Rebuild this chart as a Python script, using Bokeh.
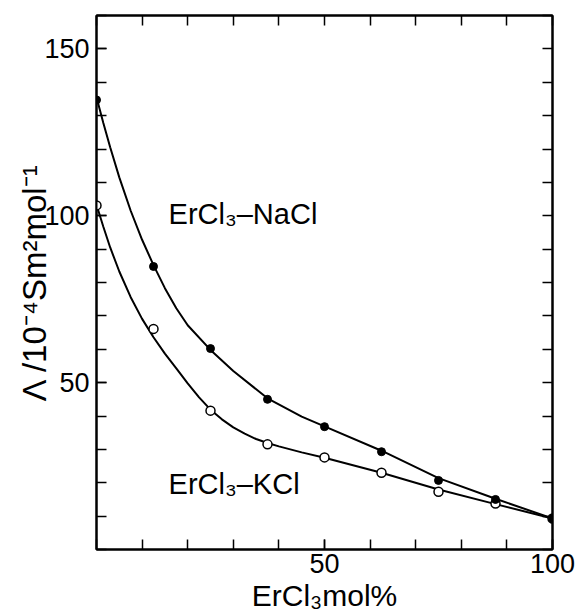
from bokeh.plotting import figure
from bokeh.models import LinearAxis, FixedTicker, Range1d, Label
from bokeh.core.properties import value
from bokeh.embed import file_html
from bokeh.resources import INLINE

# ---- data ----
comp = [0, 12.5, 25, 37.5, 50, 62.5, 75, 87.5, 100]          # ErCl3 mol%
nacl = [134.7, 84.8, 60.2, 45.0, 36.8, 29.3, 20.7, 15.0, 9.3]  # ErCl3-NaCl (filled)
kcl = [103.1, 66.1, 41.6, 31.5, 27.6, 23.0, 17.3, 13.8, 9.3]   # ErCl3-KCl (open)

# fitted curves
nacl_curve_x = [0, 1.5, 3, 5, 7.5, 10, 12.5, 15, 17.5, 20, 25, 30, 37.5, 45, 50, 62.5, 75, 87.5, 100]
nacl_curve = [135.5, 127.8, 120.5, 111.5, 101.5, 92.8, 85.2, 78.3, 72.3, 67.2, 59.8, 53.5, 45.3,
              39.8, 36.9, 29.6, 21.4, 15.2, 9.3]
kcl_curve_x = [0, 1.5, 3, 5, 7.5, 10, 12.5, 15, 17.5, 20, 22.5, 25, 27.5, 30, 32.5, 35, 37.5, 40,
               45, 50, 62.5, 75, 87.5, 100]
kcl_curve = [103.3, 96.7, 90.5, 83.3, 75.6, 69.1, 63.6, 58.7, 54.3, 49.8, 45.6, 41.9, 39.0, 36.6,
             34.7, 33.1, 31.9, 30.9, 29.1, 27.5, 23.0, 18.0, 13.6, 9.3]

x_ticks = [50, 100]
y_ticks = [50, 100, 150]
x_minor = list(range(0, 101, 10))
y_minor = list(range(0, 161, 10))
origin_label = "0"

label_na = "ErCl\u2083\u2013NaCl"
label_k = "ErCl\u2083\u2013KCl"
x_title = "ErCl\u2083mol%"
y_title = "\u039b /10\u207b\u2074Sm\u00b2mol\u207b\u00b9"

FONT = "Liberation Sans"

p = figure(width=578, height=614, x_range=Range1d(0, 100), y_range=Range1d(0, 160),
           output_backend="svg", toolbar_location=None,
           min_border_left=96, min_border_right=26, min_border_top=15, min_border_bottom=64,
           x_axis_location=None, y_axis_location=None)
p.xgrid.visible = False
p.ygrid.visible = False
p.outline_line_color = "black"
p.outline_line_width = 2
p.background_fill_color = "white"
p.border_fill_color = "white"


def style(ax):
    ax.axis_line_width = 2
    ax.axis_line_color = "black"
    ax.major_tick_in = 10
    ax.major_tick_out = 0
    ax.minor_tick_in = 10
    ax.minor_tick_out = 0
    ax.major_tick_line_width = 1.5
    ax.minor_tick_line_width = 1.5
    ax.major_tick_line_color = "black"
    ax.minor_tick_line_color = "black"
    ax.major_label_text_font = FONT
    ax.major_label_text_font_size = "27px"
    ax.major_label_text_color = "black"
    ax.axis_label_text_font = FONT
    ax.axis_label_text_font_size = "30px"
    ax.axis_label_text_font_style = "normal"
    ax.axis_label_text_color = "black"


xb = LinearAxis(ticker=FixedTicker(ticks=x_ticks, minor_ticks=x_minor), axis_label=x_title)
style(xb)
xb.major_label_standoff = 4
xb.axis_label_standoff = 3
p.add_layout(xb, "below")

yl = LinearAxis(ticker=FixedTicker(ticks=y_ticks, minor_ticks=y_minor), axis_label=y_title)
style(yl)
yl.major_label_standoff = 7
yl.axis_label_standoff = -12
yl.axis_label_text_font_size = "33px"
p.add_layout(yl, "left")

# top and right frame ticks (no labels)
xt = LinearAxis(ticker=FixedTicker(ticks=[], minor_ticks=x_minor))
style(xt)
p.add_layout(xt, "above")

yr = LinearAxis(ticker=FixedTicker(ticks=[], minor_ticks=y_minor))
style(yr)
p.add_layout(yr, "right")

# curves
p.line(nacl_curve_x, nacl_curve, line_color="black", line_width=2)
p.line(kcl_curve_x, kcl_curve, line_color="black", line_width=2)

# points
p.scatter(comp, kcl, marker="circle", size=9, fill_color="white", line_color="black", line_width=1.5)
p.scatter(comp, nacl, marker="circle", size=8, fill_color="black", line_color="black")

# annotations
p.text(x=[15.8], y=[100.6], text=[label_na], text_font=value(FONT), text_font_size="29px",
       text_baseline="middle", text_align="left", text_color="black")
p.text(x=[15.8], y=[19.5], text=[label_k], text_font=value(FONT), text_font_size="29px",
       text_baseline="middle", text_align="left", text_color="black")

zero = Label(x=0, y=0, text=origin_label, x_offset=-6, y_offset=-27, text_align="right",
             text_baseline="alphabetic", text_font=FONT, text_font_size="27px", text_color="black")
p.add_layout(zero)

open("out.html", "w").write(file_html(p, INLINE))
